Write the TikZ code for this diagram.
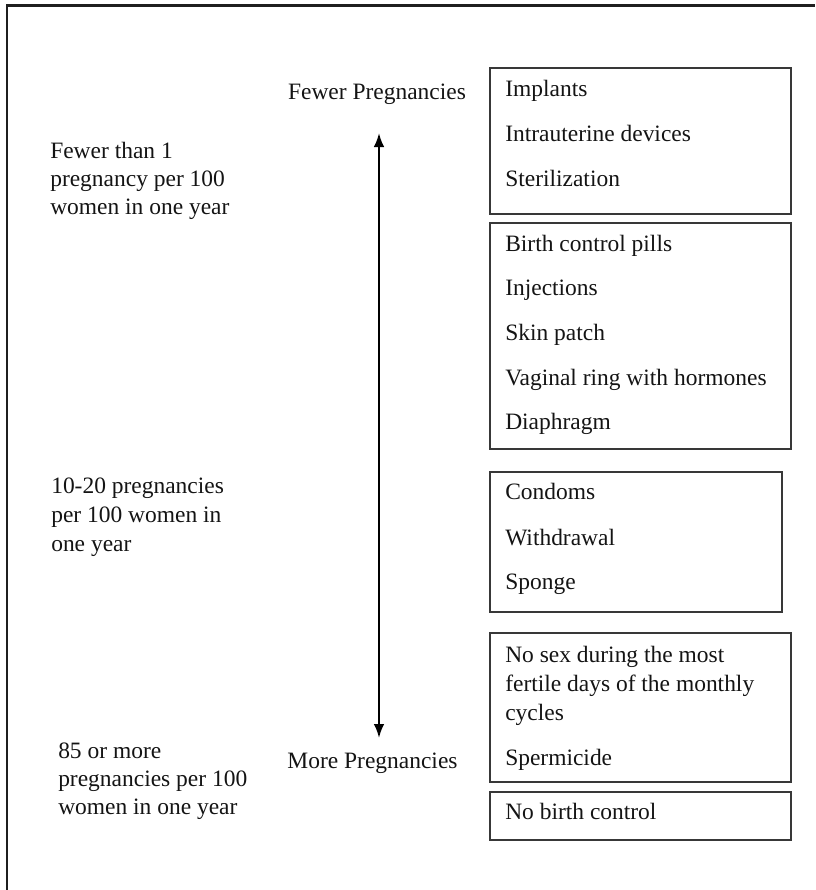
\documentclass[tikz,border=0pt]{standalone}
\usepackage{fontspec}
\setmainfont{Liberation Serif}
\usetikzlibrary{arrows.meta}
\newcommand{\pxbox}[5]{\node[boxst, minimum width={(#4-#2)*0.75pt}, minimum height={(#5-#3)*0.75pt}] (#1) at ({(#2+#4)/2},{(#3+#5)/2}) {};}
\begin{document}
\begin{tikzpicture}[x=0.75pt, y=-0.75pt,
  txt/.style={anchor=base west, inner sep=0pt, text=black!92, font=\fontsize{17.6pt}{21pt}\selectfont},
  ctxt/.style={anchor=base, inner sep=0pt, text=black!92, font=\fontsize{17.6pt}{21pt}\selectfont},
  boxst/.style={draw=black!78, line width=1pt, rectangle, inner sep=0pt},
  frame/.style={draw=black!88, line width=1.6pt},
  scalearrow/.style={line width=1.6pt, draw=black, {Latex[length=10.5pt,width=8pt]}-{Latex[length=10.5pt,width=8pt]}}]
\useasboundingbox (0,0) rectangle (815,890);
% frame
\coordinate (fl) at (7,890);
\coordinate (fc) at (7,5.5);
\coordinate (fr) at (815,5.5);
\draw[frame] (fl) -- (fc) -- (fr);
% boxes
\pxbox{b1}{490}{68}{791}{214}
\pxbox{b2}{490}{223}{791}{449}
\pxbox{b3}{490}{472}{782}{612}
\pxbox{b4}{490}{633}{791}{782}
\pxbox{b5}{490}{792}{791}{840}
% arrow
\coordinate (atop) at (379,133);
\coordinate (abot) at (379,738);
\draw[scalearrow] (atop) -- (abot);
\node[ctxt] (fewer) at (377,99.5) {Fewer Pregnancies};
\node[ctxt] (more) at (372.5,768.5) {More Pregnancies};
% left labels
\node[txt] (l1a) at (50,158.5) {Fewer than 1};
\node[txt] (l1b) at (50,186.5) {pregnancy per 100};
\node[txt] (l1c) at (50,214.5) {women in one year};
\node[txt] (l2a) at (51,493) {10-20 pregnancies};
\node[txt] (l2b) at (51,522) {per 100 women in};
\node[txt] (l2c) at (51,551) {one year};
\node[txt] (l3a) at (58,758.5) {85 or more};
\node[txt] (l3b) at (58,786.5) {pregnancies per 100};
\node[txt] (l3c) at (58,814.5) {women in one year};
% box texts
\node[txt] (t11) at (505,96.5) {Implants};
\node[txt] (t12) at (505,141.5) {Intrauterine devices};
\node[txt] (t13) at (505,186.5) {Sterilization};
\node[txt] (t21) at (505,251.5) {Birth control pills};
\node[txt] (t22) at (505,295.5) {Injections};
\node[txt] (t23) at (505,340.5) {Skin patch};
\node[txt] (t24) at (505,385.5) {Vaginal ring with hormones};
\node[txt] (t25) at (505,429.5) {Diaphragm};
\node[txt] (t31) at (505,499.5) {Condoms};
\node[txt] (t32) at (505,545.5) {Withdrawal};
\node[txt] (t33) at (505,589.5) {Sponge};
\node[txt] (t41) at (505,662.5) {No sex during the most};
\node[txt] (t42) at (505,691.5) {fertile days of the monthly};
\node[txt] (t43) at (505,720.5) {cycles};
\node[txt] (t44) at (505,765.5) {Spermicide};
\node[txt] (t51) at (505,819.5) {No birth control};
\end{tikzpicture}
\end{document}
